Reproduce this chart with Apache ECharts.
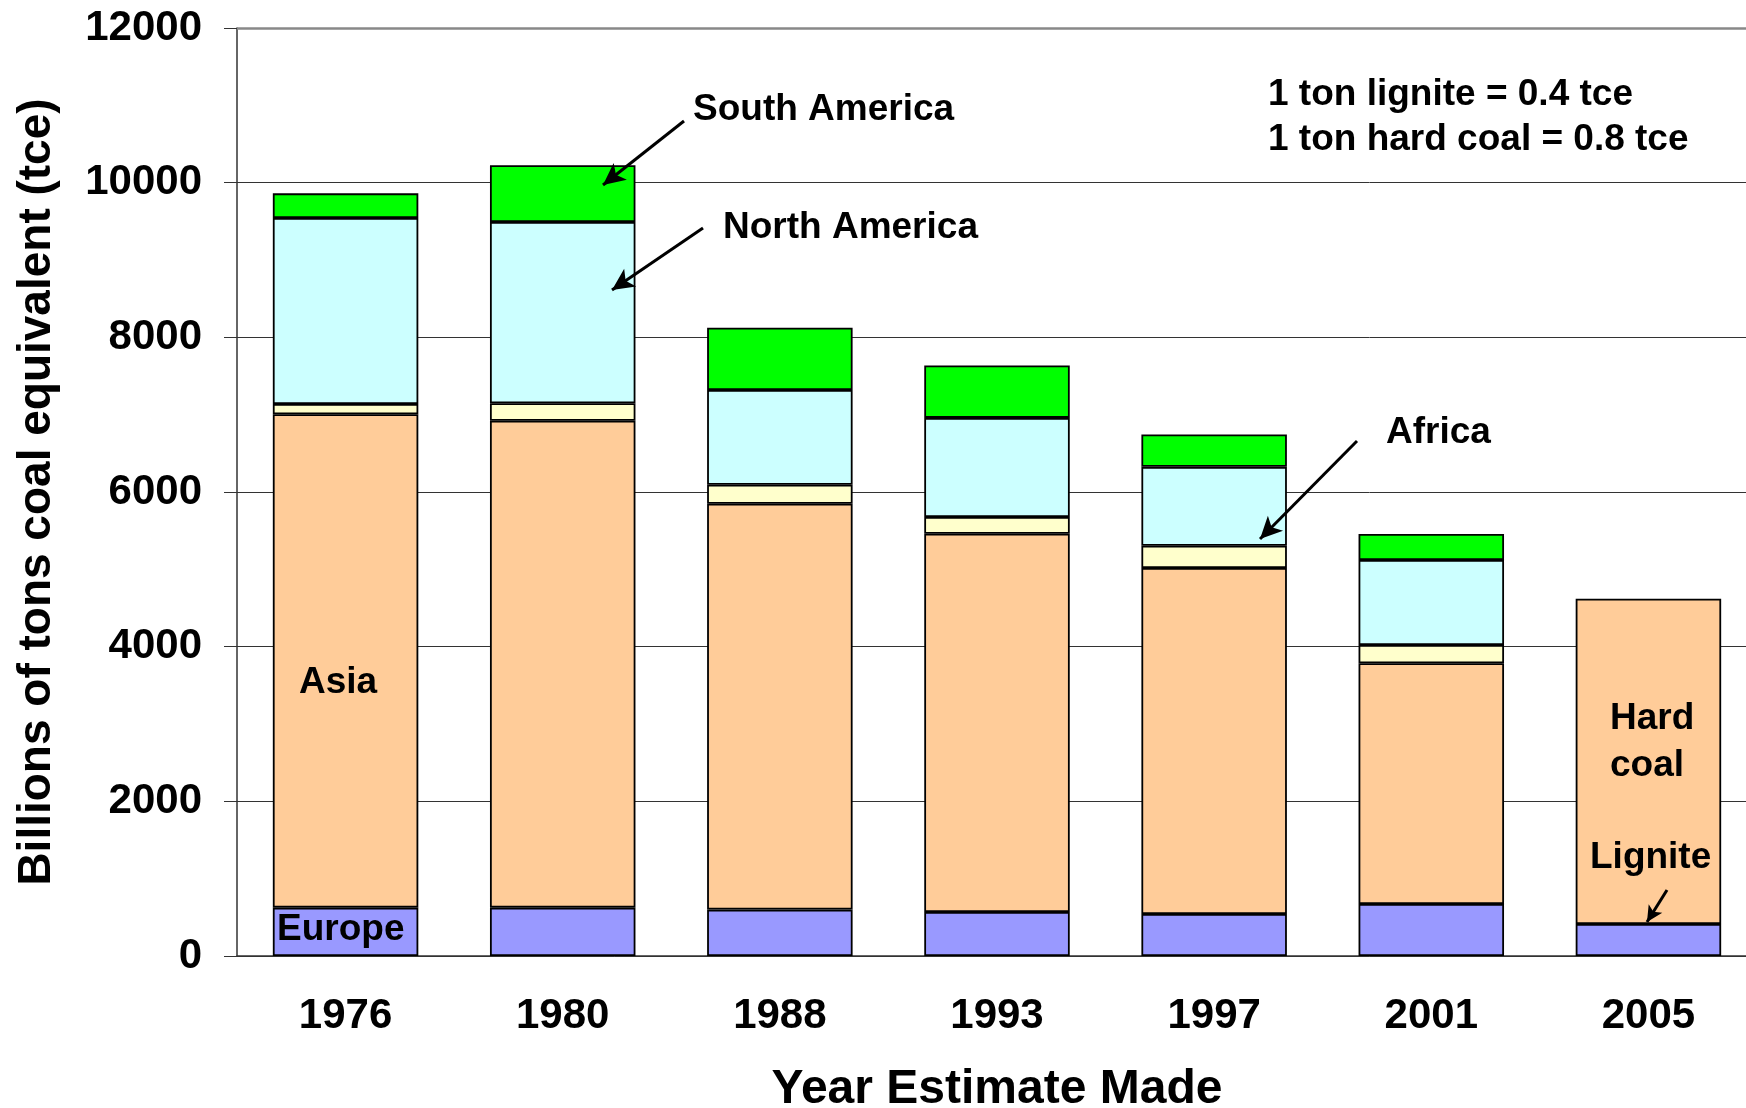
<!DOCTYPE html>
<html>
<head>
<meta charset="utf-8">
<script src="https://cdn.jsdelivr.net/npm/echarts@6/dist/echarts.min.js"></script>
<style>
html, body { margin: 0; padding: 0; background: #fff; }
#main { width: 1746px; height: 1108px; }
</style>
</head>
<body>
<div id="main"></div>
<script>
// values, billions of tce
var years = ['1976', '1980', '1988', '1993', '1997', '2001', '2005'];
var europe = [625, 625, 600, 569, 543, 672, 414];          // 2005 column: lignite
var asia = [6380, 6297, 5249, 4891, 4474, 3113, 4206];     // 2005 column: hard coal
var africa = [133, 225, 245, 216, 287, 237, '-'];
var northAmerica = [2405, 2344, 1224, 1282, 1021, 1099, '-'];
var southAmerica = [319, 734, 807, 677, 419, 336, '-'];

var FONT = 'Liberation Sans, Arial, Helvetica, sans-serif';

function arrow(x1, y1, x2, y2) {
  return [{ x: x1, y: y1 }, { x: x2, y: y2 }];
}

function note(text, x, y) {
  return {
    type: 'text',
    left: x,
    top: y - 16,
    z: 100,
    style: { text: text, font: 'bold 37px ' + FONT, fill: '#000' }
  };
}

function barSeries(name, data, color) {
  return {
    name: name,
    type: 'bar',
    stack: 'total',
    barCategoryGap: '33%',
    data: data,
    itemStyle: { color: color, borderColor: '#000', borderWidth: 1.8 }
  };
}

var myChart = echarts.init(document.getElementById('main'));
var sa = barSeries('South America', southAmerica, '#00ff00');
sa.markLine = {
  silent: true,
  symbol: ['none', 'arrow'],
  symbolSize: [16, 22],
  label: { show: false },
  lineStyle: { color: '#000', width: 3, type: 'solid' },
  data: [
    arrow(684, 121, 603, 185),
    arrow(703, 228, 612, 290),
    arrow(1357, 441, 1260, 539),
    [{ x: 1667, y: 890, symbolSize: [12, 16] }, { x: 1647, y: 922, symbolSize: [12, 16] }],
    [{ yAxis: 12000, x: 237, lineStyle: { color: '#888', width: 2.5 }, symbol: 'none' },
     { yAxis: 12000, x: 1746, symbol: 'none' }]
  ]
};

var option = {
  backgroundColor: '#fff',
  animation: false,
  textStyle: { fontFamily: FONT },
  grid: { left: 237, top: 28, width: 1520, bottom: 152, outerBoundsMode: 'none', containLabel: false },
  xAxis: {
    type: 'category',
    data: years,
    name: 'Year Estimate Made',
    nameLocation: 'middle',
    nameGap: 110,
    nameTextStyle: { fontSize: 48, fontWeight: 'bold', color: '#000', fontFamily: FONT },
    axisLine: { lineStyle: { color: '#333', width: 1.5 } },
    axisTick: { length: 14, lineStyle: { color: '#333', width: 1 } },
    axisLabel: { fontSize: 42, fontWeight: 'bold', color: '#000', margin: 39, fontFamily: FONT }
  },
  yAxis: {
    type: 'value',
    min: 0,
    max: 12000,
    interval: 2000,
    name: 'Billions of tons coal equivalent (tce)',
    nameLocation: 'middle',
    nameGap: 177,
    nameTextStyle: { fontSize: 46, fontWeight: 'bold', color: '#000', fontFamily: FONT },
    axisLine: { show: true, lineStyle: { color: '#333', width: 1.5 } },
    axisTick: { show: true, length: 13, lineStyle: { color: '#333', width: 1 } },
    axisLabel: {
      fontSize: 42, fontWeight: 'bold', color: '#000', margin: 35, fontFamily: FONT,
      formatter: function (v) { return String(v); }
    },
    splitLine: { lineStyle: { color: '#333', width: 1 } }
  },
  series: [
    barSeries('Europe', europe, '#9999ff'),
    barSeries('Asia', asia, '#ffcc99'),
    barSeries('Africa', africa, '#ffffcc'),
    barSeries('North America', northAmerica, '#ccffff'),
    sa
  ],
  graphic: [
    note('South America', 693, 107),
    note('North America', 723, 225),
    note('Africa', 1386, 430),
    note('1 ton lignite = 0.4 tce', 1268, 92),
    note('1 ton hard coal = 0.8 tce', 1268, 137),
    note('Asia', 299, 680),
    note('Europe', 277, 927),
    note('Hard', 1610, 716),
    note('coal', 1610, 763),
    note('Lignite', 1590, 855)
  ]
};
myChart.setOption(option);
</script>
</body>
</html>
